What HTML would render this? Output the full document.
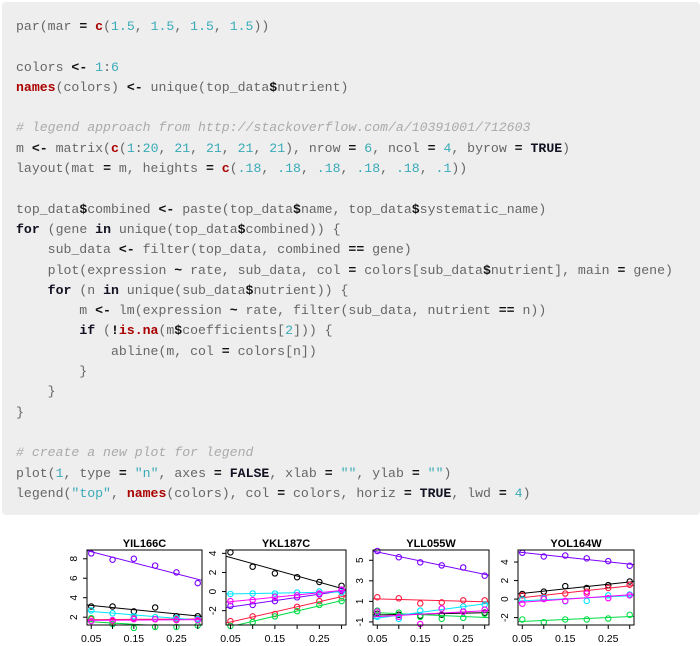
<!DOCTYPE html>
<html><head><meta charset="utf-8">
<style>
html,body{margin:0;padding:0;background:#fff;width:700px;height:646px;overflow:hidden}
#code{position:absolute;left:2px;top:2px;width:698px;height:513px;background:#eeeeee;border-radius:4px}
pre{margin:0;position:absolute;left:14px;top:15px;font-family:"Liberation Mono",monospace;font-size:13.2px;line-height:20.3px;color:#666}
.k{color:#a00;font-weight:bold}.o{color:#111;font-weight:bold}.n{color:#3aabb8}.c{color:#aaa;font-style:italic}.kw{color:#112;font-weight:bold}
svg{position:absolute;left:0;top:0}
</style></head><body>
<div id="code"><pre>par(mar <span class="o">=</span> <span class="k">c</span>(<span class="n">1.5</span>, <span class="n">1.5</span>, <span class="n">1.5</span>, <span class="n">1.5</span>))

colors <span class="o">&lt;-</span> <span class="n">1</span>:<span class="n">6</span>
<span class="k">names</span>(colors) <span class="o">&lt;-</span> unique(top_data<span class="o">$</span>nutrient)

<span class="c"># legend approach from http://stackoverflow.com/a/10391001/712603</span>
m <span class="o">&lt;-</span> matrix(<span class="k">c</span>(<span class="n">1</span>:<span class="n">20</span>, <span class="n">21</span>, <span class="n">21</span>, <span class="n">21</span>, <span class="n">21</span>), nrow <span class="o">=</span> <span class="n">6</span>, ncol <span class="o">=</span> <span class="n">4</span>, byrow <span class="o">=</span> <span class="kw">TRUE</span>)
layout(mat <span class="o">=</span> m, heights <span class="o">=</span> <span class="k">c</span>(<span class="n">.18</span>, <span class="n">.18</span>, <span class="n">.18</span>, <span class="n">.18</span>, <span class="n">.18</span>, <span class="n">.1</span>))

top_data<span class="o">$</span>combined <span class="o">&lt;-</span> paste(top_data<span class="o">$</span>name, top_data<span class="o">$</span>systematic_name)
<span class="kw">for</span> (gene <span class="kw">in</span> unique(top_data<span class="o">$</span>combined)) {
    sub_data <span class="o">&lt;-</span> filter(top_data, combined <span class="o">==</span> gene)
    plot(expression <span class="o">~</span> rate, sub_data, col <span class="o">=</span> colors[sub_data<span class="o">$</span>nutrient], main <span class="o">=</span> gene)
    <span class="kw">for</span> (n <span class="kw">in</span> unique(sub_data<span class="o">$</span>nutrient)) {
        m <span class="o">&lt;-</span> lm(expression <span class="o">~</span> rate, filter(sub_data, nutrient <span class="o">==</span> n))
        <span class="kw">if</span> (<span class="o">!</span><span class="k">is.na</span>(m<span class="o">$</span>coefficients[<span class="n">2</span>])) {
            abline(m, col <span class="o">=</span> colors[n])
        }
    }
}

<span class="c"># create a new plot for legend</span>
plot(<span class="n">1</span>, type <span class="o">=</span> <span class="n">"n"</span>, axes <span class="o">=</span> <span class="kw">FALSE</span>, xlab <span class="o">=</span> <span class="n">""</span>, ylab <span class="o">=</span> <span class="n">""</span>)
legend(<span class="n">"top"</span>, <span class="k">names</span>(colors), col <span class="o">=</span> colors, horiz <span class="o">=</span> <span class="kw">TRUE</span>, lwd <span class="o">=</span> <span class="n">4</span>)</pre></div>
<svg id="chart" width="700" height="646"></svg>
<script>
const rates=[0.05,0.10,0.15,0.20,0.25,0.30];
const seriesColors=["#000000","#ff1a40","#00dd44","#7a00ff","#00e5ff","#ff00ff"];
const panelTitles=["YIL166C","YKL187C","YLL055W","YOL164W"];
const bottomTitles=["YPL201C","ARO9 YHR208C","ARO9 YEL055W","STA1 YDR050C"];
const xTicks=[0.05,0.10,0.15,0.20,0.25,0.30];
const xTickLabels=["0.05","","0.15","","0.25",""];
const yTicks=[[2,4,6,8],[-2,0,2,4],[-1,1,3,5],[-2,0,2,4]];
const yRanges=[[1.2,8.9],[-3.5,4.35],[-1.3,6.0],[-2.8,5.3]];
const p1=[[3.1,3.1,2.6,3.0,2.1,2.1],[1.8,1.6,1.9,1.8,1.8,1.8],[1.9,1.3,0.9,1.0,1.0,1.15],[8.55,7.9,8.0,7.3,6.6,5.5],[2.7,2.4,2.1,2.0,1.9,1.8],[1.6,1.7,1.8,1.8,1.7,1.7]];
const p2=[[4.1,2.6,1.9,1.5,1.0,0.6],[-3.1,-2.6,-2.35,-1.6,-1.0,-0.5],[-3.6,-3.2,-2.6,-2.05,-1.4,-1.0],[-1.5,-1.4,-1.0,-0.6,-0.3,0.1],[-0.25,-0.2,-0.2,-0.1,0,-0.1],[-1.0,-0.9,-0.55,-0.4,-0.2,0.2]];
const p3=[[-0.2,-0.3,-0.4,-0.3,0,-0.1],[1.4,1.3,0.8,0.9,1.1,1.1],[0.1,-0.1,-0.5,-0.7,-0.6,-0.2],[5.9,5.3,4.8,4.5,4.3,3.5],[-0.5,-0.7,0.1,0.3,0.5,0.7],[0,-0.5,-1.2,0.3,0,0.2]];
const p4=[[0.55,0.8,1.4,1.2,1.5,1.9],[0.4,0.2,0.6,0.8,1.2,1.55],[-2.2,-2.5,-2.2,-2.2,-2.1,-1.7],[5.0,4.6,4.7,4.4,4.1,3.6],[-0.05,0.1,-0.25,-0.2,0.4,0.5],[-0.5,0,-0.2,0.6,0.1,0.4]];
const panelData=[p1,p2,p3,p4];

const NS="http://www.w3.org/2000/svg";
const svg=document.getElementById('chart');
function mk(t,a,parent){const e=document.createElementNS(NS,t);for(const k in a)e.setAttribute(k,a[k]);(parent||svg).appendChild(e);return e;}
const boxes=[[87,202],[226,346],[373,489],[518,634]];
const top0=550,bot0=625,xMin=0.04,xMax=0.31;
panelData.forEach((data,pi)=>{
  const [L,R]=boxes[pi];const [y0,y1]=yRanges[pi];
  const sx=v=>L+(v-xMin)/(xMax-xMin)*(R-L);
  const sy=v=>bot0-(v-y0)/(y1-y0)*(bot0-top0);
  const g=mk('g',{});
  
  
  const cp=mk('clipPath',{id:'cp'+pi},g);mk('rect',{x:L,y:top0,width:R-L,height:bot0-top0},cp);
  data.forEach((vals,si)=>{
    const n=vals.length,mx=rates.reduce((a,b)=>a+b)/n,my=vals.reduce((a,b)=>a+b)/n;
    let sxy=0,sxx=0;rates.forEach((x,i)=>{sxy+=(x-mx)*(vals[i]-my);sxx+=(x-mx)*(x-mx);});
    const b=sxy/sxx,a=my-b*mx;
    const ln=mk('line',{x1:sx(xMin),y1:sy(a+b*xMin),x2:sx(xMax),y2:sy(a+b*xMax),stroke:seriesColors[si],'stroke-width':1,'clip-path':'url(#cp'+pi+')'},g);
    
    
    vals.forEach((v,i)=>{
      const c=mk('circle',{cx:sx(rates[i]),cy:sy(v),r:2.7,fill:'none',stroke:seriesColors[si],'stroke-width':1.1},g);
      
      
    });
  });
  mk('rect',{x:L,y:top0,width:R-L,height:bot0-top0,fill:'none',stroke:'#000','stroke-width':1},g);
  xTicks.forEach((t,i)=>{
    mk('line',{x1:sx(t),x2:sx(t),y1:bot0,y2:bot0+4,stroke:'#000'},g);
    if(xTickLabels[i]){const tx=mk('text',{x:sx(t),y:bot0+17,'text-anchor':'middle','font-size':'10.5','font-family':'Liberation Sans, sans-serif',fill:'#000'},g);tx.textContent=xTickLabels[i];
      
      }
  });
  yTicks[pi].forEach(t=>{
    const y=sy(t);
    mk('line',{x1:L,x2:L-4,y1:y,y2:y,stroke:'#000'},g);
    const tx=mk('text',{x:L-10,y:y,'text-anchor':'middle','font-size':'10','font-family':'Liberation Sans, sans-serif',transform:'rotate(-90 '+(L-10)+' '+y+')',fill:'#000'},g);
    tx.textContent=t;
    
    
  });
  const tt=mk('text',{x:(L+R)/2,y:547,'text-anchor':'middle','font-size':'11','font-weight':'bold','font-family':'Liberation Sans, sans-serif'},g);
  tt.textContent=panelTitles[pi];
  
  
  const bt=mk('text',{x:(L+R)/2,y:654,'text-anchor':'middle','font-size':'11','font-weight':'bold','font-family':'Liberation Sans, sans-serif'},g);
  bt.textContent=bottomTitles[pi];
  
  
});
</script>
</body></html>
